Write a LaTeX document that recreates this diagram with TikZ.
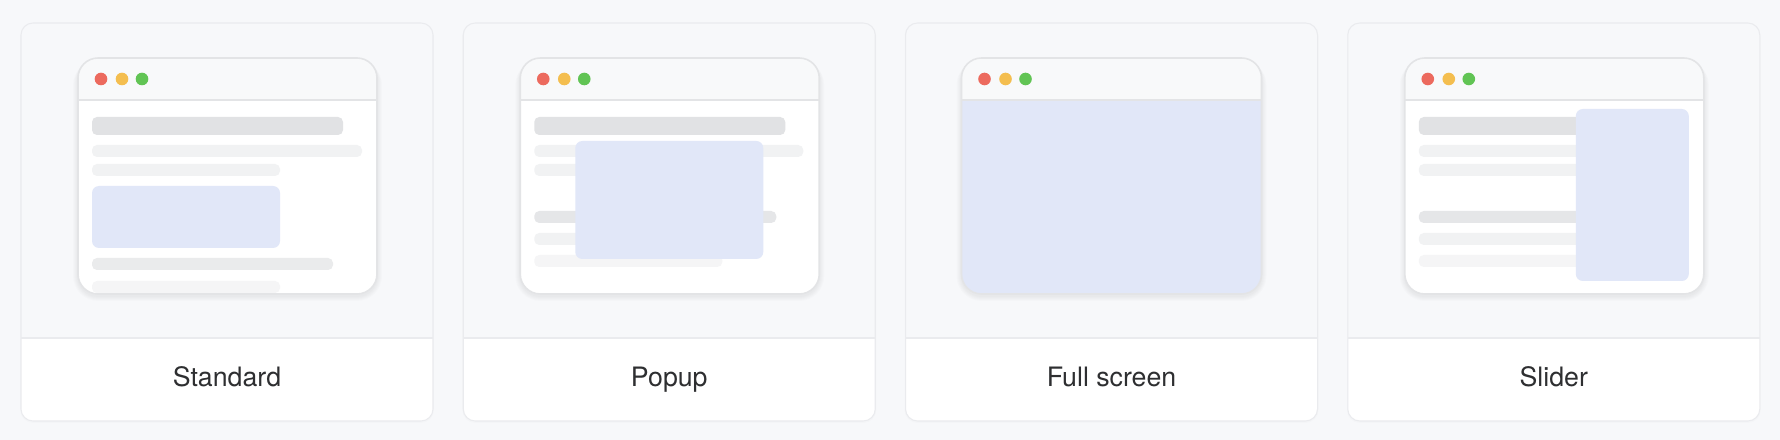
\documentclass[tikz,border=0pt]{standalone}
\usepackage{fontspec}
\setmainfont{TeX Gyre Heros}

\begin{document}
\begin{tikzpicture}[x=0.01cm,y=-0.01cm]

	\definecolor{pagebg}{HTML}{F7F8FA}
	\definecolor{cardline}{HTML}{EAEBEE}
	\definecolor{winline}{HTML}{E3E4E6}
	\definecolor{titlebg}{HTML}{F8F9FA}
	\definecolor{bardark}{HTML}{E1E2E4}
	\definecolor{barmid}{HTML}{EAEBEC}
	\definecolor{barlight}{HTML}{F1F2F3}
	\definecolor{barfaint}{HTML}{F5F5F6}
	\definecolor{adblue}{HTML}{E1E7F8}
	\definecolor{dotred}{HTML}{EC6A5E}
	\definecolor{dotyellow}{HTML}{F4BE4F}
	\definecolor{dotgreen}{HTML}{61C454}
	\definecolor{labeltext}{HTML}{2E2F31}

	\tikzstyle{card} = [fill=white, rounded corners=0.12cm]
	\tikzstyle{cardedge} = [draw=cardline, line width=0.3pt, rounded corners=0.12cm]
	\tikzstyle{haze} = [fill=black, opacity=0.012]
	\tikzstyle{window} = [fill=white, rounded corners=0.2cm]
	\tikzstyle{winedge} = [draw=winline, line width=0.45pt, rounded corners=0.2cm]
	\tikzstyle{bar} = [rounded corners=0.05cm]
	\tikzstyle{ad} = [fill=adblue, rounded corners=0.07cm]
	\tikzset{dot/.style = {shape=circle, inner sep=0pt, minimum size=0.126cm}}
	\tikzset{cardname/.style = {anchor=base, font=\fontsize{7.6}{9}\selectfont, text=labeltext}}

	\fill[pagebg] (0,0) rectangle (1780,440);
	\useasboundingbox (0,0) rectangle (1780,440);

	% Standard
	\begin{scope}[xshift=0cm]
	\fill[haze, rounded corners=0.13cm] (20,23) rectangle (434,423);
	\path[card] (21,23) rectangle (433,421);
	\fill[pagebg] (21,338) {[rounded corners=0.12cm] -- (21,23) -- (433,23)} -- (433,338) -- cycle;
	\draw[cardline, line width=0.3pt] (21,338) -- (433,338);
	\draw[cardedge] (21,23) rectangle (433,421);
	\foreach \s in {1,2,3,4,5}
		\fill[haze, rounded corners=0.2cm+\s*0.01cm] (78-\s,58+2) rectangle (377+\s,294+2+\s);
	\path[window] (78,58) rectangle (377,294);
	\begin{scope}
		\clip[rounded corners=0.2cm] (78,58) rectangle (377,294);
		\fill[titlebg] (78,58) rectangle (377,100);
		\fill[bar, bardark] (92,117) rectangle (343,135);
		\fill[bar, barlight] (92,145) rectangle (362,157);
		\fill[bar, barlight] (92,164) rectangle (280,176);
		\fill[ad] (92,186) rectangle (280,248);
		\fill[bar, barmid] (92,258) rectangle (333,270);
		\fill[bar, barfaint] (92,281) rectangle (280,293);
	\end{scope}
	\draw[winline, line width=0.45pt] (78,100) -- (377,100);
	\draw[winedge] (78,58) rectangle (377,294);
	\node[dot, fill=dotred] (r1) at (101,79) {};
	\node[dot, fill=dotyellow] (y1) at (122,79) {};
	\node[dot, fill=dotgreen] (g1) at (142,79) {};
	\node[cardname] (std) at (227,386) {Standard};
	\end{scope}

	% Popup
	\begin{scope}[xshift=4.42cm]
	\fill[haze, rounded corners=0.13cm] (20,23) rectangle (434,423);
	\path[card] (21,23) rectangle (433,421);
	\fill[pagebg] (21,338) {[rounded corners=0.12cm] -- (21,23) -- (433,23)} -- (433,338) -- cycle;
	\draw[cardline, line width=0.3pt] (21,338) -- (433,338);
	\draw[cardedge] (21,23) rectangle (433,421);
	\foreach \s in {1,2,3,4,5}
		\fill[haze, rounded corners=0.2cm+\s*0.01cm] (78-\s,58+2) rectangle (377+\s,294+2+\s);
	\path[window] (78,58) rectangle (377,294);
	\begin{scope}
		\clip[rounded corners=0.2cm] (78,58) rectangle (377,294);
		\fill[titlebg] (78,58) rectangle (377,100);
		\fill[bar, bardark] (92,117) rectangle (343,135);
		\fill[bar, barlight] (92,145) rectangle (361,157);
		\fill[bar, barlight] (92,164) rectangle (260,176);
		\fill[bar, bardark!85!white] (92,211) rectangle (334,223);
		\fill[bar, barlight] (92,233) rectangle (260,245);
		\fill[bar, barfaint] (92,255) rectangle (280,267);
		\fill[ad] (133,141) rectangle (321,259);
	\end{scope}
	\draw[winline, line width=0.45pt] (78,100) -- (377,100);
	\draw[winedge] (78,58) rectangle (377,294);
	\node[dot, fill=dotred] (r2) at (101,79) {};
	\node[dot, fill=dotyellow] (y2) at (122,79) {};
	\node[dot, fill=dotgreen] (g2) at (142,79) {};
	\node[cardname] (pop) at (227,386) {Popup};
	\end{scope}

	% Full screen
	\begin{scope}[xshift=8.84cm]
	\fill[haze, rounded corners=0.13cm] (20,23) rectangle (434,423);
	\path[card] (21,23) rectangle (433,421);
	\fill[pagebg] (21,338) {[rounded corners=0.12cm] -- (21,23) -- (433,23)} -- (433,338) -- cycle;
	\draw[cardline, line width=0.3pt] (21,338) -- (433,338);
	\draw[cardedge] (21,23) rectangle (433,421);
	\foreach \s in {1,2,3,4,5}
		\fill[haze, rounded corners=0.2cm+\s*0.01cm] (77-\s,58+2) rectangle (377+\s,294+2+\s);
	\path[window] (77,58) rectangle (377,294);
	\begin{scope}
		\clip[rounded corners=0.2cm] (77,58) rectangle (377,294);
		\fill[titlebg] (77,58) rectangle (377,100);
		\fill[adblue] (77,100) rectangle (377,294);
	\end{scope}
	\draw[winline, line width=0.45pt] (77,100) -- (377,100);
	\draw[winedge] (77,58) rectangle (377,294);
	\node[dot, fill=dotred] (r3) at (100,79) {};
	\node[dot, fill=dotyellow] (y3) at (121,79) {};
	\node[dot, fill=dotgreen] (g3) at (141,79) {};
	\node[cardname] (full) at (227,386) {Full screen};
	\end{scope}

	% Slider
	\begin{scope}[xshift=13.26cm]
	\fill[haze, rounded corners=0.13cm] (20,23) rectangle (434,423);
	\path[card] (21,23) rectangle (433,421);
	\fill[pagebg] (21,338) {[rounded corners=0.12cm] -- (21,23) -- (433,23)} -- (433,338) -- cycle;
	\draw[cardline, line width=0.3pt] (21,338) -- (433,338);
	\draw[cardedge] (21,23) rectangle (433,421);
	\foreach \s in {1,2,3,4,5}
		\fill[haze, rounded corners=0.2cm+\s*0.01cm] (78-\s,58+2) rectangle (377+\s,294+2+\s);
	\path[window] (78,58) rectangle (377,294);
	\begin{scope}
		\clip[rounded corners=0.2cm] (78,58) rectangle (377,294);
		\fill[titlebg] (78,58) rectangle (377,100);
		\fill[bar, bardark] (92,117) rectangle (290,135);
		\fill[bar, barlight] (92,145) rectangle (290,157);
		\fill[bar, barlight] (92,164) rectangle (290,176);
		\fill[bar, bardark!85!white] (92,211) rectangle (290,223);
		\fill[bar, barlight] (92,233) rectangle (290,245);
		\fill[bar, barfaint] (92,255) rectangle (290,267);
		\fill[ad] (249,109) rectangle (362,281);
	\end{scope}
	\draw[winline, line width=0.45pt] (78,100) -- (377,100);
	\draw[winedge] (78,58) rectangle (377,294);
	\node[dot, fill=dotred] (r4) at (101,79) {};
	\node[dot, fill=dotyellow] (y4) at (122,79) {};
	\node[dot, fill=dotgreen] (g4) at (142,79) {};
	\node[cardname] (slide) at (227,386) {Slider};
	\end{scope}

\end{tikzpicture}
\end{document}
